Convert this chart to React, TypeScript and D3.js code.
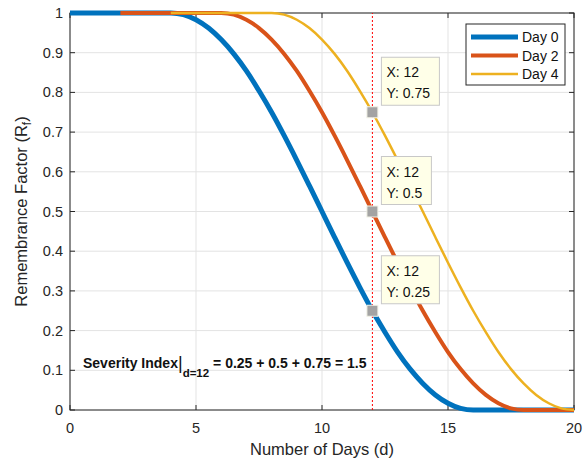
import React from "react";
import * as d3 from "d3";

const step = 0.5;
const day0Start = 0;
const day0 = [
  1, 1, 1, 1, 1, 1, 1, 1, 1,
  0.996, 0.983, 0.962, 0.933, 0.897, 0.854, 0.804, 0.75, 0.691, 0.629, 0.565, 0.5,
  0.435, 0.371, 0.309, 0.25, 0.196, 0.146, 0.103, 0.067, 0.038, 0.017, 0.004,
  0, 0, 0, 0, 0, 0, 0, 0, 0,
];
const day2Start = 2;
const day2 = [
  1, 1, 1, 1, 1, 1, 1, 1, 1,
  0.996, 0.983, 0.962, 0.933, 0.897, 0.854, 0.804, 0.75, 0.691, 0.629, 0.565, 0.5,
  0.435, 0.371, 0.309, 0.25, 0.196, 0.146, 0.103, 0.067, 0.038, 0.017, 0.004,
  0, 0, 0, 0, 0,
];
const day4Start = 4;
const day4 = [
  1, 1, 1, 1, 1, 1, 1, 1, 1,
  0.996, 0.983, 0.962, 0.933, 0.897, 0.854, 0.804, 0.75, 0.691, 0.629, 0.565, 0.5,
  0.435, 0.371, 0.309, 0.25, 0.196, 0.146, 0.103, 0.067, 0.038, 0.017, 0.004,
  0,
];

const seriesNames = ["Day 0", "Day 2", "Day 4"];
const xTicks = [0, 5, 10, 15, 20];
const yTicks = [0, 0.1, 0.2, 0.3, 0.4, 0.5, 0.6, 0.7, 0.8, 0.9, 1];
const cursorDay = 12;
const tips = [0.75, 0.5, 0.25];

const colors = ["#0072BD", "#D95319", "#EDB120"];
const widths = [5, 4, 2.5];
const font = "'Liberation Sans', Arial, Helvetica, sans-serif";
const axisColor = "#262626";

const W = 588;
const H = 461;
const margin = { top: 13, right: 14, bottom: 51, left: 70 };

const App = () => {
  const x = d3.scaleLinear().domain([0, 20]).range([margin.left, W - margin.right]);
  const y = d3.scaleLinear().domain([0, 1]).range([H - margin.bottom, margin.top]);

  const toPoints = (start: number, vals: number[]) =>
    vals.map((v, i) => [start + i * step, v] as [number, number]);
  const series = [
    toPoints(day0Start, day0),
    toPoints(day2Start, day2),
    toPoints(day4Start, day4),
  ];

  const line = d3
    .line<[number, number]>()
    .x((d) => x(d[0]))
    .y((d) => y(d[1]))
    .curve(d3.curveMonotoneX);

  const x0 = x(0), x1 = x(20), y0 = y(0), y1 = y(1);
  const tickLen = 5;

  // legend
  const lg = { x: 466, y: 24, w: 99, h: 61 };

  return (
    <svg
      width={W}
      height={H}
      style={{ position: "absolute", left: 0, top: 0, background: "#fff" }}
      fontFamily={font}
    >
      {/* grid */}
      <g stroke="#e3e3e3" strokeWidth={1}>
        {xTicks.map((t) => (
          <line key={"gx" + t} x1={x(t)} x2={x(t)} y1={y0} y2={y1} />
        ))}
        {yTicks.map((t) => (
          <line key={"gy" + t} x1={x0} x2={x1} y1={y(t)} y2={y(t)} />
        ))}
      </g>

      {/* box and ticks */}
      <rect x={x0} y={y1} width={x1 - x0} height={y0 - y1} fill="none" stroke={axisColor} strokeWidth={1} />
      <g stroke={axisColor} strokeWidth={1}>
        {xTicks.map((t) => (
          <g key={"tx" + t}>
            <line x1={x(t)} x2={x(t)} y1={y0} y2={y0 - tickLen} />
            <line x1={x(t)} x2={x(t)} y1={y1} y2={y1 + tickLen} />
          </g>
        ))}
        {yTicks.map((t) => (
          <g key={"ty" + t}>
            <line x1={x0} x2={x0 + tickLen} y1={y(t)} y2={y(t)} />
            <line x1={x1} x2={x1 - tickLen} y1={y(t)} y2={y(t)} />
          </g>
        ))}
      </g>

      {/* tick labels */}
      <g fontSize={14.5} fill={axisColor}>
        {xTicks.map((t) => (
          <text key={"lx" + t} x={x(t)} y={y0 + 23} textAnchor="middle">
            {t}
          </text>
        ))}
        {yTicks.map((t) => (
          <text key={"ly" + t} x={x0 - 7} y={y(t) + 5} textAnchor="end">
            {d3.format("~g")(t)}
          </text>
        ))}
      </g>

      {/* axis labels */}
      <text x={(x0 + x1) / 2} y={455} textAnchor="middle" fontSize={16.5} fill={axisColor}>
        Number of Days (d)
      </text>
      <text
        transform={`translate(27,${(y0 + y1) / 2}) rotate(-90)`}
        textAnchor="middle"
        fontSize={16.5}
        fill={axisColor}
      >
        Remembrance Factor (R
        <tspan fontSize={12} dy={4}>f</tspan>
        <tspan dy={-4}>)</tspan>
      </text>

      {/* curves */}
      {series.map((s, i) => (
        <path key={"s" + i} d={line(s) || ""} fill="none" stroke={colors[i]} strokeWidth={widths[i]} />
      ))}

      {/* cursor line */}
      <line
        x1={x(cursorDay)}
        x2={x(cursorDay)}
        y1={y0}
        y2={y1}
        stroke="#ff0000"
        strokeWidth={1}
        strokeDasharray="2,2"
      />

      {/* data tips */}
      {tips.map((v) => {
        const mx = x(cursorDay);
        const my = y(v);
        const label = "Y: " + v;
        const bw = label.length > 6 ? 58 : 50;
        return (
          <g key={"tip" + v}>
            <rect x={mx - 5.5} y={my - 5.5} width={11} height={11} fill="#a3a3a3" stroke="#f2f2e6" strokeWidth={1} />
            <rect x={mx + 9} y={my - 55} width={bw} height={48} fill="#ffffe8" stroke="#c8c8c8" strokeWidth={1} />
            <text x={mx + 14} y={my - 35} fontSize={14} fill="#111">
              X: {cursorDay}
            </text>
            <text x={mx + 14} y={my - 14} fontSize={14} fill="#111">
              {label}
            </text>
          </g>
        );
      })}

      {/* severity annotation */}
      <text x={83} y={368} fontSize={14} fontWeight="bold" fill="#111">
        Severity Index
        <tspan fontWeight="normal" fontSize={18} dy={1}>|</tspan>
        <tspan fontSize={11.5} dy={8}>d=12</tspan>
        <tspan dy={-9}> = 0.25 + 0.5 + 0.75 = 1.5</tspan>
      </text>

      {/* legend */}
      <rect x={lg.x} y={lg.y} width={lg.w} height={lg.h} fill="#fff" stroke={axisColor} strokeWidth={1} />
      {seriesNames.map((n, i) => {
        const ly = lg.y + 13 + i * 18.5;
        return (
          <g key={"lg" + n}>
            <line x1={lg.x + 5} x2={lg.x + 52} y1={ly} y2={ly} stroke={colors[i]} strokeWidth={widths[i]} />
            <text x={lg.x + 56} y={ly + 5} fontSize={14} fill="#111">
              {n}
            </text>
          </g>
        );
      })}
    </svg>
  );
};

export default App;
